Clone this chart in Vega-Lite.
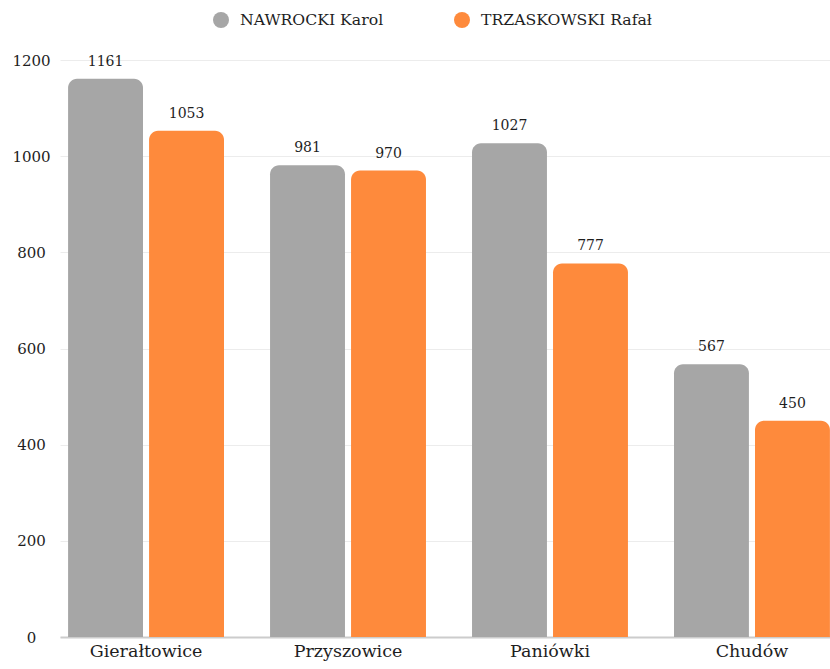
{
  "$schema": "https://vega.github.io/schema/vega-lite/v6.json",
  "autosize": {"type": "none"},
  "width": 770,
  "height": 577,
  "padding": {"left": 60, "top": 60, "right": 0, "bottom": 32},
  "background": "white",
  "config": {
    "font": "DejaVu Serif",
    "view": {"stroke": null}
  },
  "data": {
    "values": [
      {"miejsce": "Gierałtowice", "kandydat": "NAWROCKI Karol", "glosy": 1161},
      {"miejsce": "Gierałtowice", "kandydat": "TRZASKOWSKI Rafał", "glosy": 1053},
      {"miejsce": "Przyszowice", "kandydat": "NAWROCKI Karol", "glosy": 981},
      {"miejsce": "Przyszowice", "kandydat": "TRZASKOWSKI Rafał", "glosy": 970},
      {"miejsce": "Paniówki", "kandydat": "NAWROCKI Karol", "glosy": 1027},
      {"miejsce": "Paniówki", "kandydat": "TRZASKOWSKI Rafał", "glosy": 777},
      {"miejsce": "Chudów", "kandydat": "NAWROCKI Karol", "glosy": 567},
      {"miejsce": "Chudów", "kandydat": "TRZASKOWSKI Rafał", "glosy": 450}
    ]
  },
  "encoding": {
    "x": {
      "field": "miejsce",
      "type": "nominal",
      "sort": ["Gierałtowice", "Przyszowice", "Paniówki", "Chudów"],
      "scale": {"range": [0, 778], "paddingInner": 0.228, "paddingOuter": 0.04},
      "axis": {
        "title": null,
        "labelAngle": 0,
        "labelFont": "DejaVu Serif",
        "labelFontSize": 17.5,
        "labelColor": "#1e1e1e",
        "labelPadding": 5,
        "ticks": false,
        "domain": true,
        "domainColor": "#cccccc",
        "domainWidth": 2
      }
    },
    "xOffset": {
      "field": "kandydat",
      "type": "nominal",
      "sort": ["NAWROCKI Karol", "TRZASKOWSKI Rafał"],
      "scale": {"paddingInner": 0.075, "paddingOuter": 0}
    },
    "y": {
      "field": "glosy",
      "type": "quantitative",
      "stack": null,
      "scale": {"domain": [0, 1200], "nice": false},
      "axis": {
        "title": null,
        "values": [0, 200, 400, 600, 800, 1000, 1200],
        "format": "d",
        "labelFont": "DejaVu Serif",
        "labelFontSize": 15,
        "labelColor": "#1e1e1e",
        "labelAlign": "center",
        "labelPadding": 29,
        "ticks": false,
        "domain": false,
        "grid": true,
        "gridColor": "#ececec",
        "gridWidth": 1
      }
    }
  },
  "layer": [
    {
      "mark": {"type": "bar", "cornerRadiusTopLeft": 9, "cornerRadiusTopRight": 9},
      "encoding": {
        "color": {
          "field": "kandydat",
          "type": "nominal",
          "scale": {"domain": ["NAWROCKI Karol", "TRZASKOWSKI Rafał"], "range": ["#a6a6a6", "#fe8a3c"]},
          "legend": {
            "title": null,
            "orient": "none",
            "direction": "horizontal",
            "legendX": 153,
            "legendY": -48,
            "symbolType": "circle",
            "symbolSize": 256,
            "symbolStrokeWidth": 0,
            "labelFont": "DejaVu Serif",
            "labelFontSize": 15.7,
            "labelColor": "#1e1e1e",
            "labelOffset": 11,
            "labelLimit": 400,
            "columnPadding": 70
          }
        }
      }
    },
    {
      "mark": {"type": "text", "baseline": "bottom", "dy": -10, "font": "DejaVu Serif", "fontSize": 14, "color": "#1e1e1e"},
      "encoding": {
        "text": {"field": "glosy", "type": "quantitative"}
      }
    }
  ]
}
